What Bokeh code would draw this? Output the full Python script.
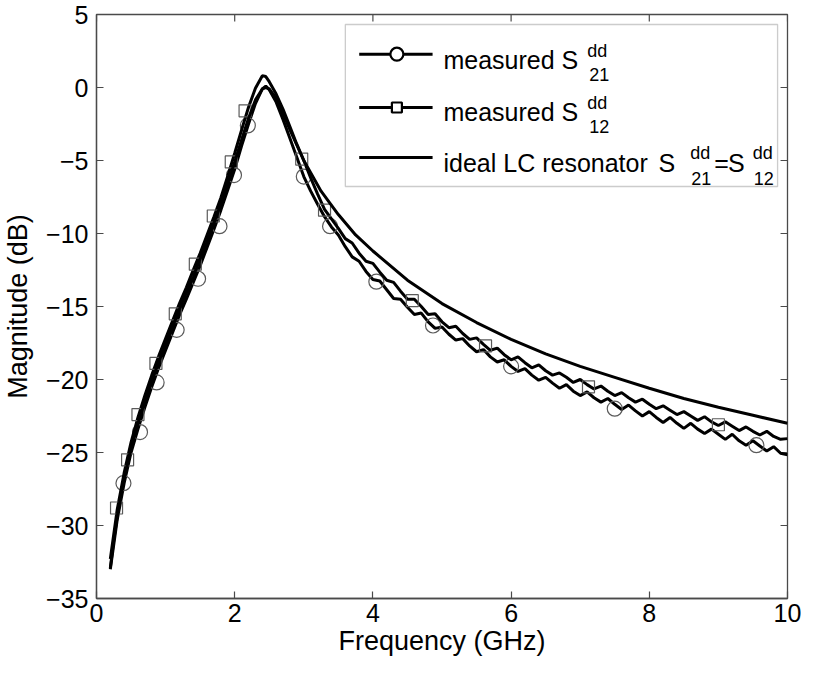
from bokeh.plotting import figure
from bokeh.models import Range1d, Label, BoxAnnotation, FixedTicker
from bokeh.embed import file_html
from bokeh.resources import INLINE

# ---------------- data ----------------
freq_ideal = [0.2, 0.25, 0.3, 0.35, 0.4, 0.5, 0.6, 0.7, 0.8, 0.9, 1.0, 1.2, 1.4, 1.6,
              1.8, 2.0, 2.1, 2.2, 2.3, 2.4, 2.45, 2.5, 2.6, 2.7, 2.8, 3.0, 3.25, 3.5,
              3.75, 4.0, 4.5, 5.0, 5.5, 6.0, 6.5, 7.0, 7.5, 8.0, 8.5, 9.0, 9.5, 10.0]
s_ideal = [-32.9, -31.0, -29.4, -28.0, -26.8, -24.7, -23.0, -21.5, -20.1, -18.8, -17.6,
           -15.2, -12.95, -10.55, -8.0, -5.1, -3.6, -2.1, -0.85, -0.1, 0.0, -0.1, -0.75,
           -1.8, -2.9, -5.0, -7.1, -8.7, -10.1, -11.2, -13.2, -14.8, -16.1, -17.25,
           -18.25, -19.1, -19.85, -20.6, -21.3, -21.9, -22.45, -23.0]

freq_meas = [0.2, 0.3, 0.4, 0.5, 0.6, 0.7, 0.8, 0.9, 1.0,
             1.1, 1.2, 1.3, 1.4, 1.5, 1.6, 1.7, 1.8, 1.9, 2.0,
             2.1, 2.2, 2.3, 2.4, 2.45, 2.5, 2.6, 2.7, 2.8, 2.9, 3.0,
             3.1, 3.2, 3.3, 3.4, 3.5, 3.6, 3.7, 3.8, 3.9, 4.0,
             4.1, 4.2, 4.3, 4.4, 4.5, 4.6, 4.7, 4.8, 4.9, 5.0,
             5.1, 5.2, 5.3, 5.4, 5.5, 5.6, 5.7, 5.8, 5.9, 6.0,
             6.1, 6.2, 6.3, 6.4, 6.5, 6.6, 6.7, 6.8, 6.9, 7.0,
             7.1, 7.2, 7.3, 7.4, 7.5, 7.6, 7.7, 7.8, 7.9, 8.0,
             8.1, 8.2, 8.3, 8.4, 8.5, 8.6, 8.7, 8.8, 8.9, 9.0,
             9.1, 9.2, 9.3, 9.4, 9.5, 9.6, 9.7, 9.8, 9.9, 10.0]

s21_meas = [-33.0, -29.6, -27.1, -25.0, -23.4, -21.9, -20.5, -19.2, -18.0,
            -16.8, -15.6, -14.5, -13.35, -12.2, -10.95, -9.7, -8.4, -7.0, -5.6,
            -4.0, -2.5, -1.1, -0.1, 0.1, -0.15, -1.0, -2.2, -3.5, -4.8, -6.1,
            -7.1, -8.0, -8.85, -9.55, -10.1, -10.9, -11.6, -11.9, -12.6, -13.15,
            -13.25, -13.85, -14.45, -14.5, -15.05, -15.55, -15.45, -16.05, -16.5, -16.4,
            -16.9, -17.3, -17.2, -17.7, -18.1, -17.95, -18.45, -18.8, -18.65, -19.1,
            -19.45, -19.25, -19.7, -20.05, -19.85, -20.25, -20.6, -20.35, -20.8, -21.1,
            -20.85, -21.25, -21.55, -21.3, -21.7, -22.05, -21.75, -22.15, -22.5, -22.2,
            -22.6, -22.95, -22.6, -23.0, -23.35, -23.0, -23.4, -23.7, -23.4, -23.75,
            -24.1, -23.75, -24.2, -24.5, -24.2, -24.55, -24.9, -24.6, -25.05, -25.15]

s12_meas = [-32.3, -28.9, -26.4, -24.3, -22.6, -21.1, -19.7, -18.4, -17.2,
            -16.0, -14.8, -13.7, -12.5, -11.35, -10.1, -8.85, -7.55, -6.05, -4.5,
            -2.9, -1.35, -0.05, 0.8, 0.75, 0.4, -0.45, -1.5, -2.7, -3.9, -5.0,
            -6.2, -7.3, -8.35, -9.0, -9.65, -10.35, -10.65, -11.35, -11.9, -12.05,
            -12.65, -13.2, -13.35, -13.95, -14.5, -14.5, -15.0, -15.55, -15.5, -16.05,
            -16.45, -16.35, -16.85, -17.25, -17.15, -17.6, -18.0, -17.85, -18.3, -18.65,
            -18.45, -18.85, -19.2, -19.0, -19.4, -19.7, -19.55, -19.85, -20.2, -20.0,
            -20.35, -20.65, -20.45, -20.8, -21.1, -20.9, -21.25, -21.55, -21.35, -21.7,
            -22.0, -21.8, -22.1, -22.4, -22.2, -22.5, -22.8, -22.55, -22.9, -23.15,
            -22.9, -23.2, -23.5, -23.25, -23.55, -23.8, -23.55, -23.9, -24.1, -24.05]

# marker positions (circles on S21, squares on S12)
s21_mark_f = [0.39, 0.63, 0.87, 1.16, 1.47, 1.78, 1.99, 2.19, 3.0, 3.38, 4.05, 4.87, 6.0, 7.5, 9.55]
s21_mark_v = [-27.1, -23.6, -20.2, -16.6, -13.1, -9.5, -6.0, -2.6, -6.1, -9.5, -13.3, -16.3, -19.1, -22.0, -24.5]
s12_mark_f = [0.29, 0.45, 0.6, 0.86, 1.14, 1.43, 1.69, 1.95, 2.15, 2.97, 3.3, 4.57, 5.63, 7.12, 9.0]
s12_mark_v = [-28.8, -25.5, -22.4, -18.9, -15.5, -12.1, -8.8, -5.1, -1.6, -4.9, -8.4, -14.6, -17.7, -20.5, -23.1]

x_ticks = [0, 2, 4, 6, 8, 10]
y_ticks = [5, 0, -5, -10, -15, -20, -25, -30, -35]

x_label = "Frequency (GHz)"
y_label = "Magnitude (dB)"

# ---------------- layout ----------------
FONT = "Liberation Sans"
X0, X1, Y0, Y1 = 0, 10, -35, 5
W, H = 801, 664
FL, FR, FT, FB = 98, 795, 22, 606   # intended frame edges in page pixels (page margin 8)


def px2x(px):
    return X0 + (px - FL) / (FR - FL) * (X1 - X0)


def px2y(py):
    return Y1 - (py - FT) / (FB - FT) * (Y1 - Y0)


p = figure(width=W, height=H, x_range=Range1d(X0, X1), y_range=Range1d(Y0, Y1),
           output_backend="svg", toolbar_location=None,
           min_border_left=FL - 8, min_border_right=8 + W - FR,
           min_border_top=FT - 8, min_border_bottom=8 + H - FB)
p.background_fill_color = "white"
p.border_fill_color = "white"
p.xgrid.visible = False
p.ygrid.visible = False
AX_COLOR = "#4a4a4a"
p.outline_line_color = AX_COLOR
p.outline_line_width = 1.3

for ax in (p.xaxis[0], p.yaxis[0]):
    ax.major_tick_in = 7
    ax.major_tick_out = 0
    ax.minor_tick_line_color = None
    ax.major_tick_line_color = AX_COLOR
    ax.major_tick_line_width = 1.2
    ax.axis_line_color = AX_COLOR
    ax.axis_line_width = 1.3
    ax.major_label_text_font = FONT
    ax.major_label_text_font_size = "25px"
    ax.major_label_text_color = "black"
    ax.axis_label_text_font = FONT
    ax.axis_label_text_font_size = "27px"
    ax.axis_label_text_font_style = "normal"
    ax.axis_label_text_color = "black"

p.xaxis.ticker = FixedTicker(ticks=x_ticks)
p.yaxis.ticker = FixedTicker(ticks=y_ticks)
p.xaxis.axis_label = x_label
p.yaxis.axis_label = y_label
p.xaxis.major_label_standoff = 5
p.xaxis.axis_label_standoff = 1
p.yaxis.major_label_standoff = 8
p.yaxis.axis_label_standoff = 10

# inward ticks on the top and right edges of the box (MATLAB style)
TICK = 7
tx = TICK * (X1 - X0) / (FR - FL)
ty = TICK * (Y1 - Y0) / (FB - FT)
p.segment(x0=[X1 - tx] * len(y_ticks), y0=y_ticks, x1=[X1] * len(y_ticks), y1=y_ticks,
          line_color=AX_COLOR, line_width=1.2)
p.segment(x0=x_ticks, y0=[Y1 - ty] * len(x_ticks), x1=x_ticks, y1=[Y1] * len(x_ticks),
          line_color=AX_COLOR, line_width=1.2)

# ---------------- curves ----------------
LW = 3
MK_COLOR = "#5a5a5a"
p.line(freq_meas, s21_meas, line_color="black", line_width=LW)
p.scatter(s21_mark_f, s21_mark_v, marker="circle", size=15, fill_color=None,
          line_color=MK_COLOR, line_width=1.2)
p.line(freq_meas, s12_meas, line_color="black", line_width=LW)
p.scatter(s12_mark_f, s12_mark_v, marker="square", size=12, fill_color=None,
          line_color=MK_COLOR, line_width=1.2)
p.line(freq_ideal, s_ideal, line_color="black", line_width=LW)

# ---------------- legend (hand built, for the S^dd_21 notation) ----------------
box = BoxAnnotation(left=px2x(349), right=px2x(785), top=px2y(32), bottom=px2y(194),
                    fill_color="white", fill_alpha=1.0, line_color="#555555",
                    line_width=1.3, level="underlay")
p.add_layout(box)

rows_y = [61.7, 115.0, 165.0]
seg_x = [px2x(363), px2x(437)]
mark_x = px2x(401)
for ry in rows_y:
    p.line(seg_x, [px2y(ry), px2y(ry)], line_color="black", line_width=LW)
p.scatter([mark_x], [px2y(rows_y[0])], marker="circle", size=13, fill_color="white",
          line_color="black", line_width=2.2)
p.scatter([mark_x], [px2y(rows_y[1])], marker="square", size=10, fill_color="white",
          line_color="black", line_width=2.2)

MAIN = "25px"
SMALL = "18px"


def txt(px, py, s, size=MAIN):
    p.add_layout(Label(x=px2x(px), y=px2y(py), text=s, text_font=FONT,
                       text_font_size=size, text_color="black",
                       text_align="left", text_baseline="alphabetic"))


# row 1
txt(448, 67, "measured")
txt(567, 67, "S")
txt(593, 58, "dd", SMALL)
txt(595, 82, "21", SMALL)
# row 2
txt(448, 119, "measured")
txt(567, 119, "S")
txt(593, 110, "dd", SMALL)
txt(595, 134, "12", SMALL)
# row 3
txt(448, 170, "ideal LC resonator")
txt(665, 170, "S")
txt(697, 160, "dd", SMALL)
txt(698, 186, "21", SMALL)
txt(721, 170, "=")
txt(735, 170, "S")
txt(760, 160, "dd", SMALL)
txt(761, 186, "12", SMALL)

open("out.html", "w").write(file_html(p, INLINE))
